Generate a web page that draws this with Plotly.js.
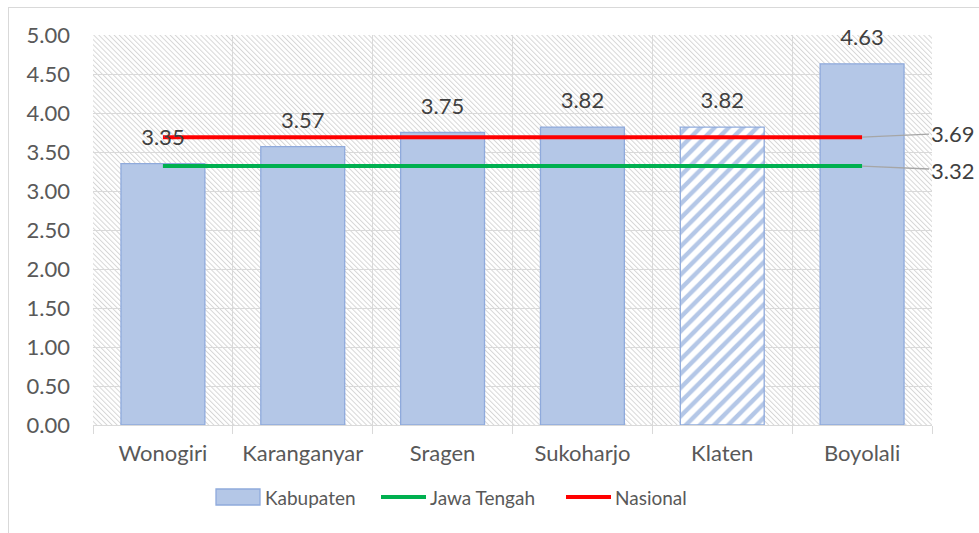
<!DOCTYPE html>
<html><head><meta charset="utf-8">
<script src="https://cdn.plot.ly/plotly-3.0.1.min.js"></script>
<style>
html,body{margin:0;padding:0;background:#fff;}
#frame{position:absolute;left:8px;top:7px;width:980px;height:540px;border:1px solid #d9d9d9;box-sizing:border-box;}
#chart{position:absolute;left:0;top:0;width:979px;height:533px;}
</style></head>
<body><div id="frame"></div><div id="chart"></div>
<script>
const categories = ["Wonogiri","Karanganyar","Sragen","Sukoharjo","Klaten","Boyolali"];
const kabupaten = [3.35,3.57,3.75,3.82,3.82,4.63];
const jawaTengah = [3.32,3.32,3.32,3.32,3.32,3.32];
const nasional = [3.69,3.69,3.69,3.69,3.69,3.69];
const yTicks = [0,0.5,1,1.5,2,2.5,3,3.5,4,4.5,5];
const seriesNames = ["Kabupaten","Jawa Tengah","Nasional"];

const hatched = "Klaten";
const isH = categories.map(c => c === hatched);

const svg = "<svg xmlns='http://www.w3.org/2000/svg' width='839' height='390'><defs><pattern id='p' width='3.6' height='3.6' patternUnits='userSpaceOnUse' patternTransform='rotate(-45)'><line x1='0.5' y1='0' x2='0.5' y2='3.6' stroke='#d6d6d6' stroke-width='1'/></pattern></defs><rect width='100%' height='100%' fill='#ffffff'/><rect width='100%' height='100%' fill='url(#p)'/></svg>";
const bgSrc = "data:image/svg+xml;charset=utf-8," + encodeURIComponent(svg);

const font = "Lato, 'Open Sans', sans-serif";
const FS = 22;

const traces = [
  {type:"bar", name:seriesNames[0], x:categories, y:kabupaten, width:0.6,
   marker:{color:"#B4C7E7",
     line:{color:"#8FAADC", width:1.3},
     pattern:{shape:isH.map(h => h ? "/" : ""), fillmode:"overlay",
              fgcolor:"#ffffff", fgopacity:1, size:10, solidity:0.55}},
   showlegend:false, hoverinfo:"skip"},
  {type:"scatter", mode:"lines", name:seriesNames[1], x:categories, y:jawaTengah,
   line:{color:"#00B050", width:4}, showlegend:false, hoverinfo:"skip"},
  {type:"scatter", mode:"lines", name:seriesNames[2], x:categories, y:nasional,
   line:{color:"#FF0000", width:4}, showlegend:false, hoverinfo:"skip"},
  {type:"scatter", mode:"markers+text", x:categories, y:kabupaten,
   text:kabupaten.map(v=>v.toFixed(2)), textposition:"top center",
   marker:{size:20, opacity:0}, cliponaxis:false,
   textfont:{family:font, size:FS, color:"#404040"}, showlegend:false, hoverinfo:"skip"}
];

const last = categories.length - 1;
const px = v => (v - 93) / 839;
const py = v => (425 - v) / 390;
const legY = 497;
const shapes = [
  {type:"rect", xref:"paper", yref:"paper", x0:px(216), x1:px(260), y0:py(505), y1:py(489),
   fillcolor:"#B4C7E7", line:{color:"#8FAADC", width:1.3}},
  {type:"line", xref:"paper", yref:"paper", x0:px(381), x1:px(426), y0:py(legY), y1:py(legY),
   line:{color:"#00B050", width:4}},
  {type:"line", xref:"paper", yref:"paper", x0:px(566), x1:px(611), y0:py(legY), y1:py(legY),
   line:{color:"#FF0000", width:4}}
];
const legAnn = [[263, seriesNames[0]], [428, seriesNames[1]], [613, seriesNames[2]]].map(([x,t]) => (
  {xref:"paper", yref:"paper", x:px(x), y:py(legY), xanchor:"left", yanchor:"middle",
   text:t, showarrow:false, font:{family:font, size:19, color:"#595959"}}));

const layout = {
  width:979, height:533,
  margin:{l:93, r:47, t:35, b:108},
  paper_bgcolor:"rgba(0,0,0,0)", plot_bgcolor:"rgba(0,0,0,0)",
  font:{family:font, color:"#595959", size:FS},
  showlegend:false,
  xaxis:{type:"category", range:[-0.5, categories.length - 0.5], showgrid:true, gridcolor:"#d9d9d9", gridwidth:1,
         tickson:"boundaries", ticks:"outside", ticklen:8, tickcolor:"#d9d9d9",
         showline:true, linecolor:"#d9d9d9", linewidth:1, ticklabelstandoff:9,
         tickfont:{family:font, size:FS, color:"#595959"}, fixedrange:true},
  yaxis:{range:[0,5], tickvals:yTicks, ticktext:yTicks.map(v=>v.toFixed(2)),
         showgrid:true, gridcolor:"#d9d9d9", gridwidth:1, zeroline:false,
         showline:false, ticks:"", ticklabelstandoff:22,
         tickfont:{family:font, size:FS, color:"#595959"}, fixedrange:true},
  images:[{source:bgSrc, xref:"paper", yref:"paper", x:0, y:1, sizex:1, sizey:1,
           xanchor:"left", yanchor:"top", sizing:"stretch", layer:"below"}],
  shapes:shapes,
  annotations:[
    {x:categories[last], y:nasional[last], xref:"x", yref:"y", text:nasional[last].toFixed(2),
     showarrow:true, arrowhead:0, arrowwidth:1.3, arrowcolor:"#a6a6a6", ax:90, ay:-4,
     font:{family:font, size:FS, color:"#404040"}},
    {x:categories[last], y:jawaTengah[last], xref:"x", yref:"y", text:jawaTengah[last].toFixed(2),
     showarrow:true, arrowhead:0, arrowwidth:1.3, arrowcolor:"#a6a6a6", ax:90, ay:4,
     font:{family:font, size:FS, color:"#404040"}}
  ].concat(legAnn)
};
Plotly.newPlot("chart", traces, layout, {displayModeBar:false, staticPlot:true});
</script></body></html>
